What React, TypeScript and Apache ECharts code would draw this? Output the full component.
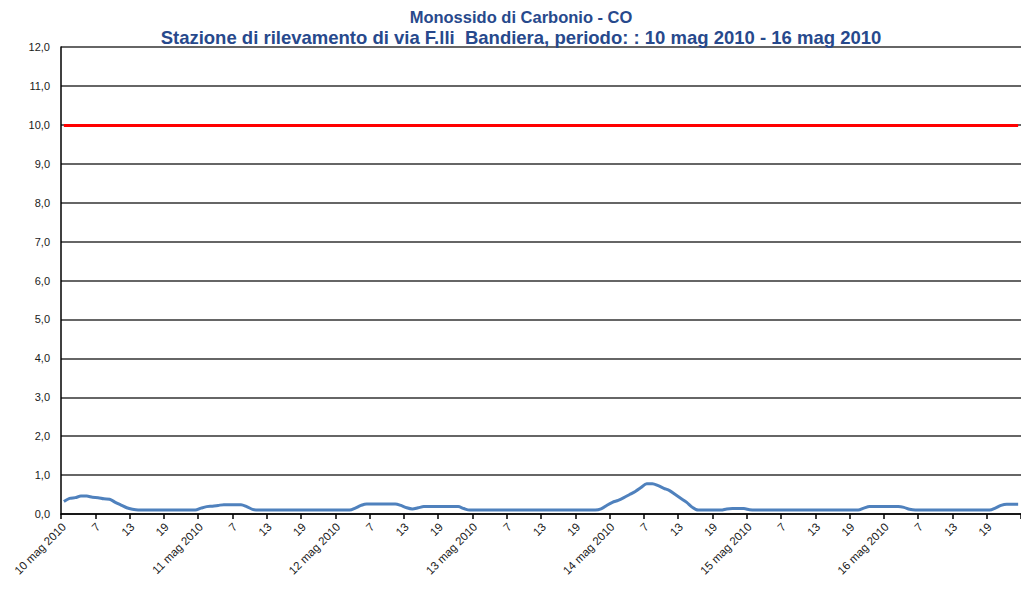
import React, { useEffect, useRef } from "react";
import * as echarts from "echarts";

const dayLabels = ["10 mag 2010", "11 mag 2010", "12 mag 2010", "13 mag 2010", "14 mag 2010", "15 mag 2010", "16 mag 2010"];
const hourLabels = ["1", "2", "3", "4", "5", "6", "7", "8", "9", "10", "11", "12", "13", "14", "15", "16", "17", "18", "19", "20", "21", "22", "23", "24"];

const day10 = [0.32, 0.40, 0.42, 0.46, 0.46, 0.43, 0.42, 0.39, 0.38, 0.30, 0.23, 0.16, 0.12, 0.10, 0.10, 0.10, 0.10, 0.10, 0.10, 0.10, 0.10, 0.10, 0.10, 0.10];
const day11 = [0.15, 0.19, 0.20, 0.22, 0.24, 0.24, 0.24, 0.24, 0.19, 0.12, 0.10, 0.10, 0.10, 0.10, 0.10, 0.10, 0.10, 0.10, 0.10, 0.10, 0.10, 0.10, 0.10, 0.10];
const day12 = [0.10, 0.10, 0.10, 0.15, 0.22, 0.26, 0.26, 0.26, 0.26, 0.26, 0.26, 0.22, 0.16, 0.13, 0.16, 0.19, 0.19, 0.19, 0.19, 0.19, 0.19, 0.19, 0.14, 0.10];
const day13 = [0.10, 0.10, 0.10, 0.10, 0.10, 0.10, 0.10, 0.10, 0.10, 0.10, 0.10, 0.10, 0.10, 0.10, 0.10, 0.10, 0.10, 0.10, 0.10, 0.10, 0.10, 0.10, 0.13, 0.22];
const day14 = [0.30, 0.35, 0.42, 0.50, 0.58, 0.68, 0.78, 0.78, 0.73, 0.66, 0.60, 0.50, 0.40, 0.30, 0.17, 0.10, 0.10, 0.10, 0.10, 0.10, 0.13, 0.14, 0.14, 0.14];
const day15 = [0.11, 0.10, 0.10, 0.10, 0.10, 0.10, 0.10, 0.10, 0.10, 0.10, 0.10, 0.10, 0.10, 0.10, 0.10, 0.10, 0.10, 0.10, 0.10, 0.10, 0.15, 0.19, 0.19, 0.19];
const day16 = [0.19, 0.19, 0.19, 0.17, 0.12, 0.10, 0.10, 0.10, 0.10, 0.10, 0.10, 0.10, 0.10, 0.10, 0.10, 0.10, 0.10, 0.10, 0.10, 0.15, 0.22, 0.25, 0.25, 0.25];

const limitValue = 10;

const titleLine1 = "Monossido di Carbonio - CO";
const titleLine2 = "Stazione di rilevamento di via F.lli  Bandiera, periodo: : 10 mag 2010 - 16 mag 2010";

export default function App() {
  const ref = useRef<HTMLDivElement>(null);
  useEffect(() => {
    if (!ref.current) return;
    const chart = echarts.init(ref.current, undefined, { renderer: "svg" });
    const categories: string[] = [];
    dayLabels.forEach((d) => {
      hourLabels.forEach((h) => {
        categories.push(h === "1" ? d : h);
      });
    });
    const values = [...day10, ...day11, ...day12, ...day13, ...day14, ...day15, ...day16];
    chart.setOption({
      animation: false,
      backgroundColor: "#ffffff",
      title: [
        {
          text: titleLine1,
          left: 516,
          textAlign: "center",
          top: 3,
          textStyle: {
            fontFamily: "Liberation Sans",
            fontSize: 16.5,
            fontWeight: "bold",
            color: "#27498C",
          },
        },
        {
          text: titleLine2,
          left: 516,
          textAlign: "center",
          top: 23,
          textStyle: {
            fontFamily: "Liberation Sans",
            fontSize: 18.5,
            fontWeight: "bold",
            color: "#27498C",
          },
        },
      ],
      grid: { left: 61, top: 47, width: 969, bottom: 78 },
      xAxis: {
        type: "category",
        data: categories,
        boundaryGap: true,
        axisLine: { show: true, lineStyle: { color: "#000", width: 1.5 } },
        axisTick: { show: true, interval: 5, length: 5, lineStyle: { color: "#000", width: 1.5 } },
        axisLabel: {
          interval: 5,
          rotate: 45,
          margin: 11,
          fontFamily: "Liberation Sans",
          fontSize: 11.5,
          color: "#1a1a1a",
        },
        splitLine: { show: false },
      },
      yAxis: {
        type: "value",
        min: 0,
        max: 12,
        interval: 1,
        axisLine: { show: true, lineStyle: { color: "#000", width: 1.5 } },
        axisTick: { show: false },
        axisLabel: {
          margin: 11,
          fontFamily: "Liberation Sans",
          fontSize: 11,
          color: "#1a1a1a",
          formatter: (v: number) => v.toFixed(1).replace(".", ","),
        },
        splitLine: { show: true, lineStyle: { color: "#333", width: 1.5 } },
      },
      series: [
        {
          type: "line",
          data: values,
          smooth: 0.3,
          showSymbol: false,
          symbol: "none",
          lineStyle: { color: "#4F81BD", width: 3 },
          markLine: {
            silent: true,
            symbol: ["none", "none"],
            label: { show: false },
            lineStyle: { color: "#FF0000", width: 3, type: "solid" },
            data: [
              [
                { xAxis: categories[0], yAxis: limitValue },
                { xAxis: categories[categories.length - 1], yAxis: limitValue },
              ],
            ],
          },
        },
      ],
    });
    return () => chart.dispose();
  }, []);
  return (
    <div
      ref={ref}
      style={{ position: "absolute", left: 0, top: 0, width: 1021, height: 592 }}
    />
  );
}
